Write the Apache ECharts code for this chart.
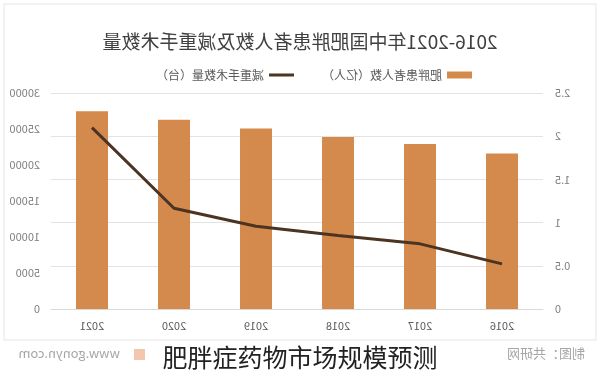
<!DOCTYPE html>
<html>
<head>
<meta charset="utf-8">
<script src="https://cdn.jsdelivr.net/npm/echarts@6/dist/echarts.min.js"></script>
<style>
  html, body { margin: 0; padding: 0; background: #fff; }
  /* 原图是左右镜像的，整张图翻过来 */
  #chart { width: 600px; height: 377px; transform: scaleX(-1); }
</style>
</head>
<body>
<div id="chart"></div>
<script>
const years = ['2016', '2017', '2018', '2019', '2020', '2021'];
const patients = [1.80, 1.91, 1.99, 2.09, 2.19, 2.29];     // 亿人
const surgeries = [6270, 9050, 10200, 11500, 14000, 25200]; // 台
const leftTicks = {min: 0, max: 2.5, interval: 0.5};
const rightTicks = {min: 0, max: 30000, interval: 5000};

const font = '"Noto Sans CJK SC", sans-serif';
// 图例里的线：上下各留一点透明的边，线本身约 3px
const lineIcon = 'path://M0,0h0.01v0.01h-0.01z M0,2h25v3h-25z M0,7h0.01v0.01h-0.01z';

var chartDom = document.getElementById('chart');
var myChart = echarts.init(chartDom);
var option = {
    backgroundColor: '#fff',
    textStyle: {fontFamily: font},
    title: {
        text: '2016-2021年中国肥胖患者人数及减重手术数量',
        left: 'center',
        top: 27,
        textStyle: {fontSize: 19, fontWeight: 'normal', color: '#404040', fontFamily: font}
    },
    legend: {
        left: 123,
        top: 64,
        itemGap: 28,
        itemWidth: 25,
        itemHeight: 7,
        textStyle: {fontSize: 12, color: '#595959', fontFamily: font},
        data: [
            {name: '肥胖患者人数（亿人）', icon: 'rect'},
            {name: '减重手术数量（台）', icon: lineIcon}
        ]
    },
    grid: {left: 57, right: 51, top: 93, bottom: 68},
    xAxis: {
        type: 'category',
        data: years,
        axisTick: {show: false},
        axisLine: {lineStyle: {color: '#d9d9d9'}},
        axisLabel: {fontSize: 11, color: '#595959', margin: 11}
    },
    yAxis: [
        {
            type: 'value',
            min: leftTicks.min, max: leftTicks.max, interval: leftTicks.interval,
            axisLabel: {fontSize: 11, color: '#7f7f7f', margin: 12},
            splitLine: {lineStyle: {color: '#e3e3e3'}}
        },
        {
            type: 'value',
            min: rightTicks.min, max: rightTicks.max, interval: rightTicks.interval,
            axisLabel: {fontSize: 11, color: '#7f7f7f', margin: 11, formatter: v => String(v)},
            splitLine: {show: false}
        }
    ],
    series: [
        {
            name: '肥胖患者人数（亿人）',
            type: 'bar',
            yAxisIndex: 0,
            barWidth: '39%',
            itemStyle: {color: '#d48a4c'},
            data: patients
        },
        {
            name: '减重手术数量（台）',
            type: 'line',
            yAxisIndex: 1,
            symbol: 'none',
            lineStyle: {color: '#4b3423', width: 3},
            itemStyle: {color: '#4b3423'},
            data: surgeries
        }
    ],
    graphic: [
        {
            type: 'rect',
            shape: {x: 4, y: 4, width: 592, height: 336},
            style: {fill: 'none', stroke: '#e6e6e6', lineWidth: 1},
            silent: true
        },
        {
            type: 'text', left: 15, top: 347,
            style: {text: '制图：共研网', fontSize: 13, fill: '#a6a6a6', fontFamily: font}
        },
        {
            type: 'rect',
            shape: {x: 455, y: 349, width: 11, height: 11},
            style: {fill: '#f3c7ae'}
        },
        {
            type: 'text', left: 480, top: 347,
            style: {text: 'www.gonyn.com', fontSize: 13, fill: '#a6a6a6', fontFamily: font}
        },
        {
            // 底部标题没有镜像，这里再翻一次抵消
            type: 'text',
            x: 300, y: 357,
            scaleX: -1,
            style: {
                text: '肥胖症药物市场规模预测',
                fontSize: 25, fill: '#222', fontFamily: font,
                align: 'center', verticalAlign: 'middle',
                backgroundColor: '#fff'
            },
            z: 100
        }
    ]
};
option && myChart.setOption(option);
</script>
</body>
</html>
